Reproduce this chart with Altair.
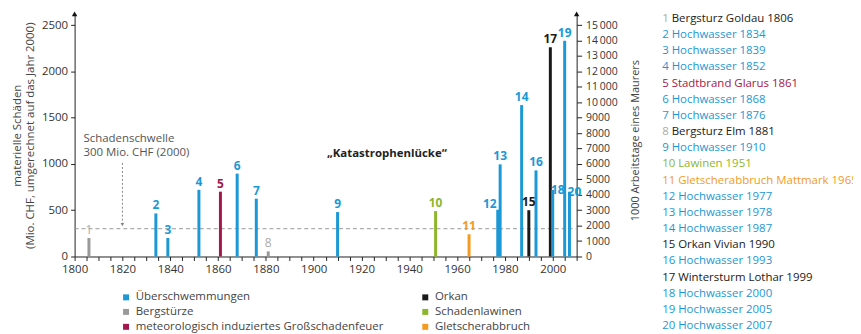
import altair as alt
import pandas as pd

# ---------------- data ----------------
numbers = list(range(1, 21))
years = [1806, 1834, 1839, 1852, 1861, 1868, 1876, 1881, 1910, 1951,
         1965, 1977, 1978, 1987, 1990, 1993, 1999, 2000, 2005, 2007]
damages = [200, 465, 200, 720, 700, 895, 625, 55, 480, 490,
           240, 505, 995, 1635, 500, 930, 2260, 720, 2330, 700]
categories = ["Bergstürze", "Überschwemmungen", "Überschwemmungen", "Überschwemmungen",
              "meteorologisch induziertes Großschadenfeuer", "Überschwemmungen",
              "Überschwemmungen", "Bergstürze", "Überschwemmungen", "Schadenlawinen",
              "Gletscherabbruch", "Überschwemmungen", "Überschwemmungen", "Überschwemmungen",
              "Orkan", "Überschwemmungen", "Orkan", "Überschwemmungen", "Überschwemmungen",
              "Überschwemmungen"]
names = ["Bergsturz Goldau 1806", "Hochwasser 1834", "Hochwasser 1839", "Hochwasser 1852",
         "Stadtbrand Glarus 1861", "Hochwasser 1868", "Hochwasser 1876", "Bergsturz Elm 1881",
         "Hochwasser 1910", "Lawinen 1951", "Gletscherabbruch Mattmark 1965", "Hochwasser 1977",
         "Hochwasser 1978", "Hochwasser 1987", "Orkan Vivian 1990", "Hochwasser 1993",
         "Wintersturm Lothar 1999", "Hochwasser 2000", "Hochwasser 2005", "Hochwasser 2007"]
# legend fills column by column
legend_order = ["Überschwemmungen", "Bergstürze", "meteorologisch induziertes Großschadenfeuer",
                "Orkan", "Schadenlawinen", "Gletscherabbruch"]
legend_colors = ["#1b98d5", "#9a9a9a", "#a3174b", "#1a1a1a", "#8db62b", "#f39b1f"]

threshold = 300
x_domain = [1800, 2010]
y_max = 2620
ratio_right = 6  # right axis (1000 Arbeitstage) = 6 x left axis

df = pd.DataFrame({"num": numbers, "year": years, "damage": damages,
                   "cat": categories, "name": names})
df["label"] = df["num"].astype(str)
df["list_text"] = df["label"] + " " + df["name"]

FONT = "Open Sans"
W, H = 505, 244

x_axis = alt.Axis(values=list(range(1800, 2011, 5)),
                  labelExpr="datum.value % 20 == 0 ? datum.value : ''",
                  title=None, grid=False, tickSize=4, labelPadding=3,
                  domainColor="#222", tickColor="#222", labelFontSize=11.5,
                  labelColor="#333", labelFlush=False, labelOverlap=False)
y_axis = alt.Axis(values=list(range(0, 2501, 500)), format="d", grid=False, tickSize=4,
                  labelPadding=3, domainColor="#222", tickColor="#222",
                  labelFontSize=11.5, labelColor="#333", titleFontSize=11.5,
                  titleFontWeight="normal", titleColor="#444", titlePadding=6,
                  title=["materielle Schäden", "(Mio. CHF, umgerechnet auf das Jahr 2000)"])
x_scale = alt.Scale(domain=x_domain, nice=False, zero=False)
y_scale = alt.Scale(domain=[0, y_max], nice=False)


def X(field):
    return alt.X(field, type="quantitative", scale=x_scale, axis=x_axis)


def Y(field):
    return alt.Y(field, type="quantitative", scale=y_scale, axis=y_axis)


color_scale = alt.Scale(domain=legend_order, range=legend_colors)
legend = alt.Legend(orient="none", legendX=46, legendY=279, columns=2,
                    columnPadding=36, rowPadding=2, symbolType="square",
                    symbolSize=36, symbolStrokeWidth=0, labelFontSize=11.5,
                    labelColor="#444", title=None, labelLimit=400)


def C():
    return alt.Color("cat:N", scale=color_scale, legend=legend)


base = alt.Chart(df)

thr = alt.Chart(pd.DataFrame({"x": [x_domain[0]], "x2": [x_domain[1]], "y": [threshold]})).mark_rule(
    color="#999", strokeDash=[4, 3], strokeWidth=1).encode(x=X("x"), x2="x2:Q", y=Y("y"))

arrow_line = alt.Chart(pd.DataFrame({"x": [1820], "y": [1010], "y2": [345]})).mark_rule(
    color="#888", strokeDash=[2, 2], strokeWidth=1).encode(x=X("x"), y=Y("y"), y2="y2:Q")
arrow_head = alt.Chart(pd.DataFrame({"x": [1820], "y": [345]})).mark_point(
    shape="triangle-down", filled=True, size=14, color="#888", opacity=1).encode(x=X("x"), y=Y("y"))

ann = alt.Chart(pd.DataFrame({"x": [1803.7], "y": [1235],
                              "t": ["Schadenschwelle\n300 Mio. CHF (2000)"]})).mark_text(
    align="left", baseline="alphabetic", fontSize=11.5, color="#555", lineBreak="\n",
    lineHeight=14).encode(x=X("x"), y=Y("y"), text="t:N")

gap = alt.Chart(pd.DataFrame({"x": [1930.6], "y": [1075],
                              "t": ["\u201eKatastrophenlücke\u201c"]})).mark_text(
    align="center", baseline="alphabetic", fontSize=11.5, fontWeight="bold",
    color="#222").encode(x=X("x"), y=Y("y"), text="t:N")

bars = base.mark_rule(strokeWidth=3).encode(x=X("year"), y=Y("damage"), y2=alt.datum(0), color=C())

lab_common = dict(align="center", baseline="middle", fontSize=12)
lab_normal = base.transform_filter(
    "datum.cat != 'Bergstürze' && datum.num != 12 && datum.num != 18 && datum.num != 20"
).mark_text(dy=-8, fontWeight="bold", **lab_common).encode(
    x=X("year"), y=Y("damage"), text="label:N", color=C())
lab_12 = base.transform_filter("datum.num == 12").mark_text(
    dy=-6, dx=-8, fontWeight="bold", **lab_common).encode(
    x=X("year"), y=Y("damage"), text="label:N", color=C())
lab_side = base.transform_filter("datum.num == 18 || datum.num == 20").mark_text(
    dy=0, dx=5, fontWeight="bold", **lab_common).encode(
    x=X("year"), y=Y("damage"), text="label:N", color=C())
lab_berg = base.transform_filter("datum.cat == 'Bergstürze'").mark_text(
    dy=-8, fontWeight="normal", color="#aaa", **lab_common).encode(
    x=X("year"), y=Y("damage"), text="label:N")

arrows = alt.Chart(pd.DataFrame({"x": x_domain, "y": [y_max, y_max]})).mark_point(
    shape="triangle-up", filled=True, size=30, color="#111", opacity=1).encode(x=X("x"), y=Y("y"))

main = alt.layer(thr, arrow_line, arrow_head, ann, gap, bars, lab_normal, lab_12,
                 lab_side, lab_berg, arrows)

right_axis = alt.Axis(orient="right", values=list(range(0, 15001, 1000)),
                      labelExpr="datum.value >= 10000 ? floor(datum.value/1000) + '\u2009000' : '' + datum.value",
                      grid=False, tickSize=5, labelPadding=4, domainColor="#222",
                      tickColor="#222", labelFontSize=10.5, labelColor="#333",
                      title="1000 Arbeitstage eines Maurers", titleAngle=270,
                      titleFontSize=11, titleFontWeight="normal", titleColor="#444",
                      titleX=59, titleY=127, titleAlign="center", titleBaseline="middle")
right = alt.Chart(pd.DataFrame({"v": [0]})).mark_rule(opacity=0).encode(
    y=alt.Y("v:Q", scale=alt.Scale(domain=[0, y_max * ratio_right], nice=False), axis=right_axis))

list_y = alt.Y("num:Q", scale=alt.Scale(domain=[1, 20], range=[5, 314]), axis=None)
lst_main = base.transform_filter("datum.cat != 'Bergstürze'").mark_text(
    align="left", baseline="middle", fontSize=11.5).encode(
    x=alt.value(591), y=list_y, text="list_text:N", color=C())
lst_num = base.transform_filter("datum.cat == 'Bergstürze'").mark_text(
    align="left", baseline="middle", fontSize=11.5, color="#aaa").encode(
    x=alt.value(591), y=list_y, text="label:N")
lst_name = base.transform_filter("datum.cat == 'Bergstürze'").mark_text(
    align="left", baseline="middle", fontSize=11.5, color="#222").encode(
    x=alt.value(600.6), y=list_y, text="name:N")
lst = alt.layer(lst_main, lst_num, lst_name)

chart = alt.layer(main, right, lst).resolve_scale(y="independent").properties(
    width=W, height=H,
    autosize=alt.AutoSizeParams(type="none"),
    padding={"left": 67, "top": 5, "right": 278, "bottom": 76},
).configure(font=FONT).configure_view(stroke=None)

chart.save("out.html", embed_options={"renderer": "svg", "actions": False})
